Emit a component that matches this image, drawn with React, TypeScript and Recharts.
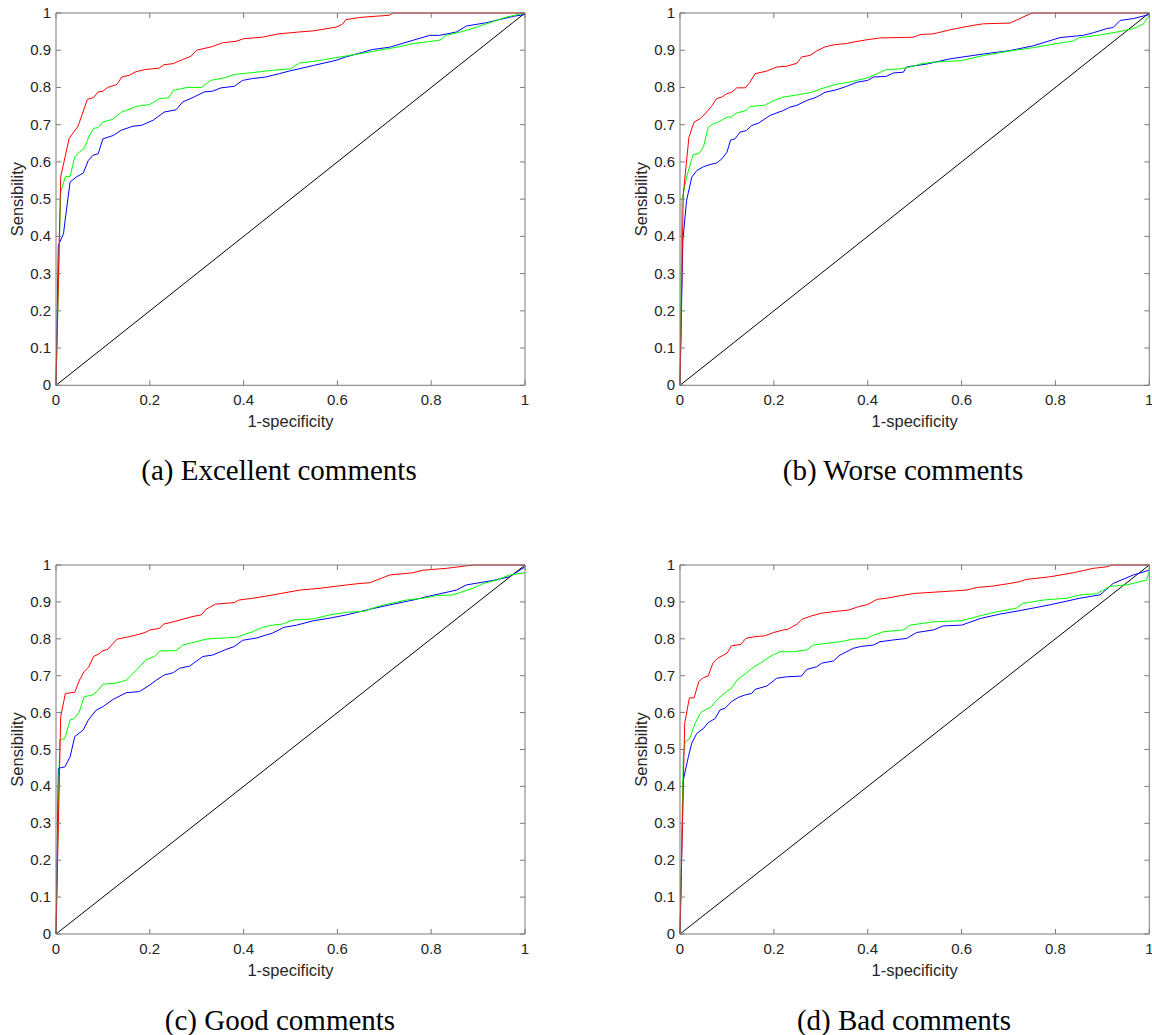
import React from 'react';
import { LineChart, Line, XAxis, YAxis } from 'recharts';

// ROC points as [1-specificity, sensibility]
const excellentRed = [[0, 0], [0.01, 0.56], [0.028, 0.663], [0.047, 0.696], [0.067, 0.768], [0.08, 0.773], [0.09, 0.788], [0.1, 0.79], [0.11, 0.8], [0.13, 0.808], [0.14, 0.828], [0.157, 0.833], [0.17, 0.842], [0.19, 0.848], [0.22, 0.852], [0.23, 0.861], [0.25, 0.864], [0.27, 0.875], [0.288, 0.884], [0.3, 0.9], [0.334, 0.91], [0.355, 0.92], [0.384, 0.924], [0.4, 0.931], [0.44, 0.935], [0.475, 0.944], [0.518, 0.949], [0.549, 0.952], [0.597, 0.962], [0.611, 0.97], [0.618, 0.982], [0.647, 0.988], [0.711, 0.994], [0.718, 1], [1, 1]];
const excellentGreen = [[0, 0], [0.01, 0.519], [0.02, 0.561], [0.03, 0.561], [0.04, 0.613], [0.05, 0.627], [0.06, 0.636], [0.07, 0.667], [0.08, 0.69], [0.09, 0.692], [0.1, 0.707], [0.12, 0.714], [0.14, 0.734], [0.16, 0.743], [0.17, 0.749], [0.2, 0.754], [0.22, 0.77], [0.24, 0.772], [0.25, 0.792], [0.28, 0.8], [0.31, 0.8], [0.33, 0.819], [0.36, 0.826], [0.38, 0.835], [0.42, 0.84], [0.46, 0.846], [0.5, 0.85], [0.52, 0.866], [0.549, 0.87], [0.597, 0.88], [0.64, 0.889], [0.69, 0.9], [0.726, 0.908], [0.762, 0.918], [0.818, 0.927], [0.832, 0.94], [0.875, 0.953], [0.918, 0.971], [0.96, 0.989], [1, 1]];
const excellentBlue = [[0, 0], [0.005, 0.376], [0.016, 0.407], [0.019, 0.439], [0.03, 0.546], [0.044, 0.56], [0.058, 0.57], [0.069, 0.604], [0.079, 0.618], [0.09, 0.622], [0.1, 0.662], [0.122, 0.671], [0.139, 0.685], [0.164, 0.696], [0.182, 0.698], [0.207, 0.712], [0.231, 0.734], [0.256, 0.74], [0.27, 0.761], [0.292, 0.773], [0.316, 0.788], [0.334, 0.79], [0.352, 0.799], [0.38, 0.803], [0.398, 0.819], [0.419, 0.824], [0.447, 0.828], [0.476, 0.837], [0.497, 0.844], [0.518, 0.85], [0.549, 0.859], [0.597, 0.873], [0.618, 0.882], [0.675, 0.902], [0.711, 0.908], [0.762, 0.927], [0.797, 0.94], [0.818, 0.94], [0.854, 0.949], [0.875, 0.965], [0.918, 0.974], [0.975, 0.991], [1, 0.996]];

const worseRed = [[0, 0], [0.007, 0.514], [0.019, 0.666], [0.03, 0.707], [0.043, 0.716], [0.053, 0.729], [0.067, 0.749], [0.078, 0.77], [0.089, 0.774], [0.099, 0.783], [0.11, 0.787], [0.121, 0.799], [0.139, 0.799], [0.149, 0.814], [0.16, 0.837], [0.185, 0.844], [0.206, 0.855], [0.227, 0.857], [0.249, 0.865], [0.259, 0.882], [0.277, 0.886], [0.291, 0.898], [0.309, 0.909], [0.33, 0.915], [0.355, 0.918], [0.369, 0.922], [0.398, 0.928], [0.426, 0.933], [0.462, 0.934], [0.497, 0.935], [0.512, 0.942], [0.54, 0.944], [0.576, 0.955], [0.6, 0.961], [0.625, 0.967], [0.647, 0.971], [0.703, 0.973], [0.724, 0.985], [0.75, 1], [1, 1]];
const worseGreen = [[0, 0], [0.004, 0.496], [0.014, 0.559], [0.028, 0.62], [0.04, 0.622], [0.05, 0.64], [0.06, 0.693], [0.07, 0.702], [0.08, 0.706], [0.1, 0.72], [0.11, 0.721], [0.12, 0.731], [0.14, 0.738], [0.15, 0.749], [0.18, 0.752], [0.2, 0.765], [0.22, 0.774], [0.25, 0.78], [0.28, 0.787], [0.3, 0.796], [0.33, 0.808], [0.36, 0.814], [0.38, 0.82], [0.4, 0.826], [0.42, 0.837], [0.44, 0.848], [0.47, 0.85], [0.497, 0.857], [0.512, 0.863], [0.54, 0.868], [0.6, 0.872], [0.647, 0.886], [0.703, 0.898], [0.753, 0.907], [0.803, 0.918], [0.838, 0.925], [0.852, 0.934], [0.895, 0.941], [0.931, 0.949], [0.966, 0.958], [0.987, 0.97], [1, 0.994]];
const worseBlue = [[0, 0], [0.006, 0.388], [0.014, 0.496], [0.025, 0.559], [0.036, 0.577], [0.05, 0.587], [0.064, 0.593], [0.078, 0.597], [0.089, 0.608], [0.1, 0.626], [0.108, 0.659], [0.117, 0.662], [0.128, 0.68], [0.141, 0.684], [0.153, 0.698], [0.167, 0.704], [0.192, 0.725], [0.22, 0.738], [0.234, 0.747], [0.249, 0.752], [0.27, 0.765], [0.291, 0.774], [0.309, 0.787], [0.334, 0.794], [0.355, 0.803], [0.377, 0.814], [0.4, 0.819], [0.412, 0.828], [0.44, 0.83], [0.455, 0.839], [0.476, 0.841], [0.483, 0.855], [0.526, 0.863], [0.576, 0.877], [0.647, 0.89], [0.703, 0.899], [0.753, 0.912], [0.81, 0.934], [0.859, 0.94], [0.881, 0.947], [0.909, 0.958], [0.923, 0.961], [0.938, 0.98], [0.966, 0.985], [1, 0.996]];

const goodRed = [[0, 0], [0.01, 0.589], [0.02, 0.652], [0.04, 0.655], [0.05, 0.688], [0.06, 0.711], [0.07, 0.724], [0.08, 0.752], [0.09, 0.758], [0.1, 0.768], [0.11, 0.771], [0.13, 0.799], [0.15, 0.804], [0.17, 0.81], [0.19, 0.817], [0.2, 0.824], [0.22, 0.828], [0.23, 0.84], [0.25, 0.846], [0.27, 0.853], [0.29, 0.86], [0.31, 0.865], [0.32, 0.88], [0.34, 0.894], [0.38, 0.898], [0.39, 0.905], [0.42, 0.91], [0.45, 0.916], [0.48, 0.923], [0.52, 0.932], [0.563, 0.937], [0.62, 0.946], [0.648, 0.95], [0.669, 0.952], [0.712, 0.973], [0.761, 0.979], [0.783, 0.986], [0.833, 0.991], [0.89, 1], [1, 1]];
const goodGreen = [[0, 0], [0.008, 0.526], [0.019, 0.53], [0.03, 0.58], [0.039, 0.584], [0.049, 0.6], [0.06, 0.643], [0.079, 0.648], [0.09, 0.661], [0.1, 0.677], [0.129, 0.68], [0.15, 0.688], [0.171, 0.715], [0.192, 0.743], [0.21, 0.752], [0.221, 0.767], [0.256, 0.768], [0.27, 0.783], [0.292, 0.79], [0.32, 0.799], [0.341, 0.801], [0.384, 0.804], [0.398, 0.81], [0.419, 0.819], [0.44, 0.831], [0.461, 0.837], [0.483, 0.84], [0.506, 0.851], [0.549, 0.854], [0.584, 0.865], [0.62, 0.872], [0.655, 0.874], [0.69, 0.889], [0.747, 0.905], [0.783, 0.91], [0.811, 0.917], [0.846, 0.919], [0.889, 0.937], [0.911, 0.95], [0.939, 0.959], [0.967, 0.973], [1, 0.979]];
const goodBlue = [[0, 0], [0.005, 0.449], [0.019, 0.453], [0.03, 0.48], [0.04, 0.535], [0.058, 0.553], [0.069, 0.58], [0.086, 0.607], [0.1, 0.616], [0.122, 0.636], [0.15, 0.654], [0.178, 0.657], [0.2, 0.675], [0.214, 0.688], [0.231, 0.702], [0.25, 0.708], [0.263, 0.72], [0.285, 0.726], [0.313, 0.752], [0.334, 0.756], [0.362, 0.771], [0.38, 0.779], [0.398, 0.796], [0.427, 0.802], [0.447, 0.81], [0.461, 0.815], [0.486, 0.831], [0.513, 0.837], [0.549, 0.849], [0.584, 0.856], [0.62, 0.865], [0.669, 0.88], [0.712, 0.892], [0.761, 0.905], [0.797, 0.916], [0.854, 0.932], [0.875, 0.946], [0.931, 0.958], [0.967, 0.968], [1, 0.995]];

const badRed = [[0, 0], [0.01, 0.571], [0.02, 0.64], [0.03, 0.64], [0.04, 0.684], [0.05, 0.695], [0.06, 0.699], [0.07, 0.734], [0.08, 0.747], [0.1, 0.761], [0.11, 0.781], [0.13, 0.785], [0.14, 0.801], [0.16, 0.806], [0.18, 0.808], [0.2, 0.817], [0.22, 0.824], [0.23, 0.826], [0.25, 0.84], [0.26, 0.853], [0.28, 0.862], [0.3, 0.869], [0.33, 0.874], [0.36, 0.878], [0.38, 0.887], [0.4, 0.893], [0.42, 0.907], [0.44, 0.91], [0.47, 0.917], [0.5, 0.923], [0.561, 0.928], [0.611, 0.932], [0.632, 0.939], [0.667, 0.943], [0.703, 0.95], [0.724, 0.955], [0.738, 0.961], [0.788, 0.968], [0.838, 0.979], [0.881, 0.991], [0.909, 0.995], [0.92, 1], [1, 1]];
const badGreen = [[0, 0], [0.007, 0.481], [0.011, 0.521], [0.021, 0.53], [0.032, 0.571], [0.043, 0.598], [0.05, 0.605], [0.067, 0.616], [0.082, 0.639], [0.099, 0.657], [0.11, 0.666], [0.121, 0.688], [0.139, 0.705], [0.153, 0.72], [0.171, 0.734], [0.192, 0.752], [0.213, 0.765], [0.242, 0.765], [0.27, 0.77], [0.284, 0.783], [0.313, 0.788], [0.341, 0.792], [0.369, 0.799], [0.398, 0.801], [0.412, 0.81], [0.433, 0.819], [0.476, 0.824], [0.49, 0.837], [0.54, 0.846], [0.6, 0.849], [0.632, 0.86], [0.667, 0.871], [0.717, 0.883], [0.731, 0.896], [0.774, 0.905], [0.824, 0.91], [0.852, 0.919], [0.888, 0.922], [0.916, 0.942], [0.952, 0.946], [0.994, 0.959], [1, 0.982]];
const badBlue = [[0, 0], [0.007, 0.417], [0.018, 0.481], [0.025, 0.517], [0.036, 0.544], [0.05, 0.557], [0.06, 0.573], [0.075, 0.584], [0.085, 0.607], [0.096, 0.612], [0.11, 0.63], [0.124, 0.641], [0.139, 0.648], [0.153, 0.652], [0.16, 0.663], [0.185, 0.672], [0.206, 0.693], [0.227, 0.697], [0.259, 0.699], [0.27, 0.717], [0.291, 0.724], [0.302, 0.734], [0.327, 0.74], [0.341, 0.756], [0.369, 0.774], [0.384, 0.779], [0.412, 0.783], [0.426, 0.792], [0.455, 0.797], [0.483, 0.801], [0.504, 0.817], [0.54, 0.824], [0.561, 0.835], [0.6, 0.837], [0.64, 0.855], [0.682, 0.867], [0.731, 0.878], [0.788, 0.892], [0.852, 0.91], [0.895, 0.919], [0.923, 0.95], [0.966, 0.973], [1, 0.986]];

const diagonal = [[0, 0], [1, 1]];

const xTicks = [0, 0.2, 0.4, 0.6, 0.8, 1];
const yTicks = [0, 0.1, 0.2, 0.3, 0.4, 0.5, 0.6, 0.7, 0.8, 0.9, 1];

const toPts = (a: number[][]) => a.map(([x, y]) => ({ x, y }));

const TEXT = '#262626';
const BOX = '#7a7a7a';
const SANS = '"Liberation Sans", Arial, Helvetica, sans-serif';
const SERIF = '"Liberation Serif", "Times New Roman", serif';
const TICK_LEN = 5;
// outer space round the plot box; the axes eat part of it
const PAD = { top: 13, right: 10, bottom: 60, left: 60 };
const AX = { top: 1, right: 1, bottom: 30, left: 40 };
const M = { top: PAD.top - AX.top, right: PAD.right - AX.right, bottom: PAD.bottom - AX.bottom, left: PAD.left - AX.left };

// MATLAB-style ticks: short inward marks, labels outside
const BottomTick = (props: any) => {
  const { x, y, payload } = props;
  return (
    <g>
      <line x1={x} y1={y} x2={x} y2={y - TICK_LEN} stroke={BOX} />
      <text x={x} y={y + 20} textAnchor="middle" fontSize={15} fontFamily={SANS} fill={TEXT}>
        {String(payload.value)}
      </text>
    </g>
  );
};
const TopTick = (props: any) => {
  const { x, y } = props;
  return <line x1={x} y1={y} x2={x} y2={y + TICK_LEN} stroke={BOX} />;
};
const LeftTick = (props: any) => {
  const { x, y, payload } = props;
  return (
    <g>
      <line x1={x} y1={y} x2={x + TICK_LEN} y2={y} stroke={BOX} />
      <text x={x - 5} y={y + 5} textAnchor="end" fontSize={15} fontFamily={SANS} fill={TEXT}>
        {String(payload.value)}
      </text>
    </g>
  );
};
const RightTick = (props: any) => {
  const { x, y } = props;
  return <line x1={x} y1={y} x2={x - TICK_LEN} y2={y} stroke={BOX} />;
};

interface PanelProps {
  plotLeft: number;
  plotTop: number;
  plotW: number;
  plotH: number;
  red: number[][];
  green: number[][];
  blue: number[][];
  caption: string;
  captionX: number;
  captionY: number;
}

const Panel: React.FC<PanelProps> = ({ plotLeft, plotTop, plotW, plotH, red, green, blue, caption, captionX, captionY }) => {
  const width = plotW + PAD.left + PAD.right;
  const height = plotH + PAD.top + PAD.bottom;
  const cx = PAD.left + plotW / 2;
  const cy = PAD.top + plotH / 2;
  return (
    <>
      <div style={{ position: 'absolute', left: plotLeft - PAD.left, top: plotTop - PAD.top, width, height }}>
        <LineChart width={width} height={height} margin={M}>
          <XAxis
            dataKey="x"
            type="number"
            domain={[0, 1]}
            ticks={xTicks}
            interval={0}
            height={AX.bottom}
            tickSize={0}
            tickMargin={0}
            tickLine={false}
            axisLine={{ stroke: BOX }}
            tick={<BottomTick />}
          />
          <XAxis
            xAxisId="top"
            orientation="top"
            dataKey="x"
            type="number"
            domain={[0, 1]}
            ticks={xTicks}
            interval={0}
            height={AX.top}
            tickSize={0}
            tickMargin={0}
            tickLine={false}
            axisLine={{ stroke: BOX }}
            tick={<TopTick />}
          />
          <YAxis
            type="number"
            domain={[0, 1]}
            ticks={yTicks}
            interval={0}
            width={AX.left}
            tickSize={0}
            tickMargin={0}
            tickLine={false}
            axisLine={{ stroke: BOX }}
            tick={<LeftTick />}
          />
          <YAxis
            yAxisId="right"
            orientation="right"
            type="number"
            domain={[0, 1]}
            ticks={yTicks}
            interval={0}
            width={AX.right}
            tickSize={0}
            tickMargin={0}
            tickLine={false}
            axisLine={{ stroke: BOX }}
            tick={<RightTick />}
          />
          {/* diagonal also feeds the top/right frame axes */}
          <Line xAxisId="top" yAxisId="right" data={toPts(diagonal)} dataKey="y" stroke="#000000" strokeWidth={1} dot={false} activeDot={false} isAnimationActive={false} />
          <Line data={toPts(blue)} dataKey="y" stroke="#0000ff" strokeWidth={1} dot={false} activeDot={false} isAnimationActive={false} />
          <Line data={toPts(green)} dataKey="y" stroke="#00ff00" strokeWidth={1} dot={false} activeDot={false} isAnimationActive={false} />
          <Line data={toPts(red)} dataKey="y" stroke="#ff0000" strokeWidth={1} dot={false} activeDot={false} isAnimationActive={false} />
        </LineChart>
        <svg width={width} height={height} style={{ position: 'absolute', left: 0, top: 0, pointerEvents: 'none' }}>
          <text x={cx} y={PAD.top + plotH + 42} textAnchor="middle" fontSize={16.5} fontFamily={SANS} fill={TEXT}>
            1-specificity
          </text>
          <text
            x={PAD.left - 39}
            y={cy}
            transform={`rotate(-90 ${PAD.left - 39} ${cy})`}
            textAnchor="middle"
            dominantBaseline="central"
            fontSize={16.5}
            fontFamily={SANS}
            fill={TEXT}
          >
            Sensibility
          </text>
        </svg>
      </div>
      <div
        style={{
          position: 'absolute',
          left: captionX - 200,
          width: 400,
          top: captionY - 24,
          textAlign: 'center',
          fontFamily: SERIF,
          fontSize: 29,
          lineHeight: '29px',
          color: '#000',
          whiteSpace: 'nowrap',
        }}
      >
        {caption}
      </div>
    </>
  );
};

export default function App() {
  return (
    <div style={{ position: 'absolute', left: 0, top: 0, width: 1152, height: 1035, overflow: 'hidden', background: '#fff' }}>
      <Panel plotLeft={56} plotTop={12.7} plotW={469} plotH={372.3} red={excellentRed} green={excellentGreen} blue={excellentBlue} caption="(a) Excellent comments" captionX={279} captionY={480} />
      <Panel plotLeft={680} plotTop={12.7} plotW={469.3} plotH={372.3} red={worseRed} green={worseGreen} blue={worseBlue} caption="(b) Worse comments" captionX={903} captionY={480} />
      <Panel plotLeft={56} plotTop={565} plotW={469} plotH={369} red={goodRed} green={goodGreen} blue={goodBlue} caption="(c) Good comments" captionX={280} captionY={1030} />
      <Panel plotLeft={680} plotTop={565} plotW={469.3} plotH={369} red={badRed} green={badGreen} blue={badBlue} caption="(d) Bad comments" captionX={904} captionY={1030} />
    </div>
  );
}
